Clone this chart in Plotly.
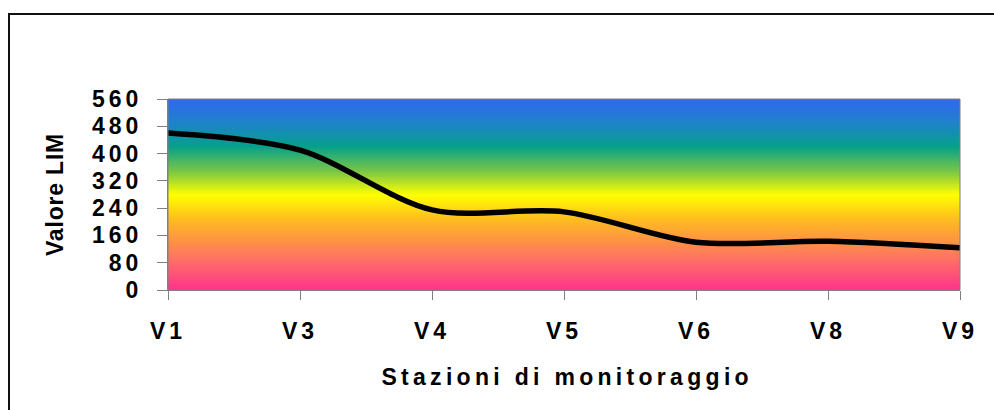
import numpy as np
import plotly.graph_objects as go

stations = ["V1", "V3", "V4", "V5", "V6", "V8", "V9"]
lim_values = [460, 410, 235, 229, 140, 143, 124]
y_ticks = [0, 80, 160, 240, 320, 400, 480, 560]

W, H = 994, 410
L, R, T, B = 168, 34, 99, 120
pw, ph = W - L - R, H - T - B

def px(xp):
    return (xp - L) / pw

def py(yp):
    return (H - B - yp) / ph

# vertical gradient background
grad_y = np.arange(-20, 581, 5)
grad_z = [[v, v] for v in grad_y]
colorscale = [
    [0.0, "rgb(255,50,140)"],
    [0.16, "rgb(255,112,100)"],
    [0.27, "rgb(255,150,65)"],
    [0.38, "rgb(255,192,30)"],
    [0.50, "rgb(255,255,0)"],
    [0.625, "rgb(120,198,70)"],
    [0.755, "rgb(5,160,140)"],
    [0.87, "rgb(30,132,200)"],
    [1.0, "rgb(48,104,238)"],
]

fig = go.Figure()
fig.add_trace(go.Heatmap(
    x=[-1, 7], y=grad_y, z=grad_z, zmin=0, zmax=560,
    colorscale=colorscale, showscale=False, zsmooth="best", hoverinfo="skip",
))
fig.add_trace(go.Scatter(
    x=list(range(len(stations))), y=lim_values, mode="lines",
    line=dict(color="black", width=5.5, shape="spline", smoothing=0.9),
    showlegend=False,
))

font_main = dict(family="Liberation Sans, Arial, sans-serif", size=23, color="black", weight="bold")

fig.update_layout(
    width=W, height=H,
    margin=dict(l=L, r=R, t=T, b=B, autoexpand=False),
    paper_bgcolor="white", plot_bgcolor="white",
    showlegend=False,
    xaxis=dict(
        range=[0, 6], tickmode="array", tickvals=list(range(len(stations))),
        ticktext=stations, ticks="outside", ticklen=9, tickcolor="#808080",
        tickwidth=1, showgrid=False, zeroline=False, showline=True,
        linecolor="#808080", linewidth=1, tickfont=font_main,
        ticklabelstandoff=11, mirror=False,
    ),
    yaxis=dict(
        range=[0, 560], tickmode="array", tickvals=y_ticks,
        ticks="outside", ticklen=10, tickcolor="#808080", tickwidth=1,
        showgrid=False, zeroline=False, showline=True, linecolor="#808080",
        linewidth=1, tickfont=font_main, ticklabelstandoff=10,
    ),
    annotations=[
        dict(text="Stazioni di monitoraggio", xref="paper", yref="paper",
             x=px(567), y=py(377), xanchor="center", yanchor="middle",
             showarrow=False, font=font_main),
        dict(text="Valore LIM", xref="paper", yref="paper",
             x=px(55), y=py(195), xanchor="center", yanchor="middle",
             textangle=-90, showarrow=False, font=font_main),
    ],
    shapes=[
        dict(type="rect", xref="paper", yref="paper",
             x0=px(9), x1=px(1010), y0=py(430), y1=py(14),
             line=dict(color="#111111", width=2), layer="above"),
        dict(type="rect", xref="paper", yref="paper",
             x0=0, x1=1, y0=0, y1=1,
             line=dict(color="#808080", width=1), layer="above"),
    ],
)

post = """
document.body.style.margin = '0';
var s = document.createElement('style');
s.innerHTML = '.xtick text, .ytick text {letter-spacing:4px;}';
document.head.appendChild(s);
var a = document.querySelectorAll('.annotation-text');
if (a.length > 0) a[0].style.letterSpacing = '4.3px';
if (a.length > 1) a[1].style.letterSpacing = '0.8px';
"""
fig.write_html("out.html", post_script=post, config={"displayModeBar": False})
